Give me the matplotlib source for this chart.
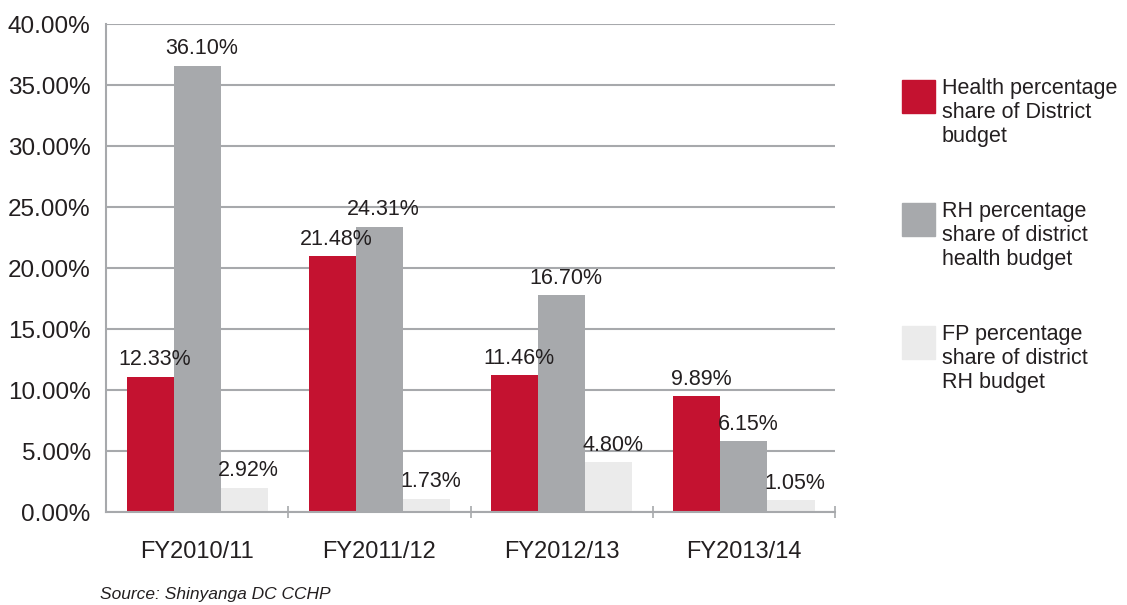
import matplotlib
matplotlib.use("Agg")
import matplotlib.pyplot as plt
from matplotlib.patches import Rectangle
import numpy as np

plt.rcParams['font.family'] = ['Liberation Sans', 'DejaVu Sans']

years = ['FY2010/11', 'FY2011/12', 'FY2012/13', 'FY2013/14']
series_names = ['Health percentage\nshare of District\nbudget',
                'RH percentage\nshare of district\nhealth budget',
                'FP percentage\nshare of district\nRH budget']
# bar heights as drawn in the picture (%)
health = [11.1, 21.0, 11.2, 9.5]
rh = [36.6, 23.4, 17.8, 5.8]
fp = [2.0, 1.1, 4.1, 0.95]
# printed value labels
health_lbl = ['12.33%', '21.48%', '11.46%', '9.89%']
rh_lbl = ['36.10%', '24.31%', '16.70%', '6.15%']
fp_lbl = ['2.92%', '1.73%', '4.80%', '1.05%']

colors = ['#c41230', '#a7a9ac', '#ebebeb']
text_c = '#231f20'
grid_c = '#a7a9ac'

fig = plt.figure(figsize=(11.27, 6.05), dpi=100)
ax = fig.add_axes([0.094, 0.1537, 0.647, 0.8063])

x = np.arange(len(years))
w = 0.258
for k, (vals, lbls) in enumerate(zip([health, rh, fp], [health_lbl, rh_lbl, fp_lbl])):
    bars = ax.bar(x + (k - 1) * w, vals, w, color=colors[k], zorder=2)
    for b, t in zip(bars, lbls):
        ax.annotate(t, (b.get_x() + b.get_width() / 2, b.get_height()),
                    xytext=(3, 4.5), textcoords='offset points',
                    ha='center', va='bottom', fontsize=15.5, color=text_c, zorder=3)

ax.set_xlim(-0.5, 3.5)
ax.set_ylim(0, 40)
ax.set_yticks(np.arange(0, 41, 5))
ax.set_yticklabels(['%.2f%%' % v for v in np.arange(0, 41, 5)])
ax.tick_params(axis='y', length=0, pad=11, labelsize=17.5, labelcolor=text_c)
ax.yaxis.grid(True, color=grid_c, linewidth=1.5, zorder=0)
ax.set_axisbelow(True)

ax.set_xticks(x + 0.5)
ax.set_xticklabels([])
ax.set_xticks(x, minor=True)
ax.set_xticklabels(years, minor=True)
ax.tick_params(axis='x', which='major', direction='inout', length=8, width=1.2, color=grid_c)
ax.tick_params(axis='x', which='minor', length=0, pad=21, labelsize=17, labelcolor=text_c)

for s in ['top', 'right']:
    ax.spines[s].set_visible(False)
for s in ['left', 'bottom']:
    ax.spines[s].set_color(grid_c)
    ax.spines[s].set_linewidth(1.5)

# legend drawn by hand
for k, name in enumerate(series_names):
    top = 1 - (80 + k * 123) / 605
    fig.add_artist(Rectangle((902 / 1127, top - 33 / 605), 33 / 1127, 33 / 605,
                             transform=fig.transFigure, color=colors[k]))
    fig.text(942 / 1127, top + 2 / 605, name, ha='left', va='top', fontsize=15.5,
             color=text_c, linespacing=1.2)

fig.text(100 / 1127, 1 - 587 / 605, 'Source: Shinyanga DC CCHP', ha='left', va='top',
         fontsize=12.5, style='italic', color=text_c)

fig.savefig('out.png', dpi=100)
